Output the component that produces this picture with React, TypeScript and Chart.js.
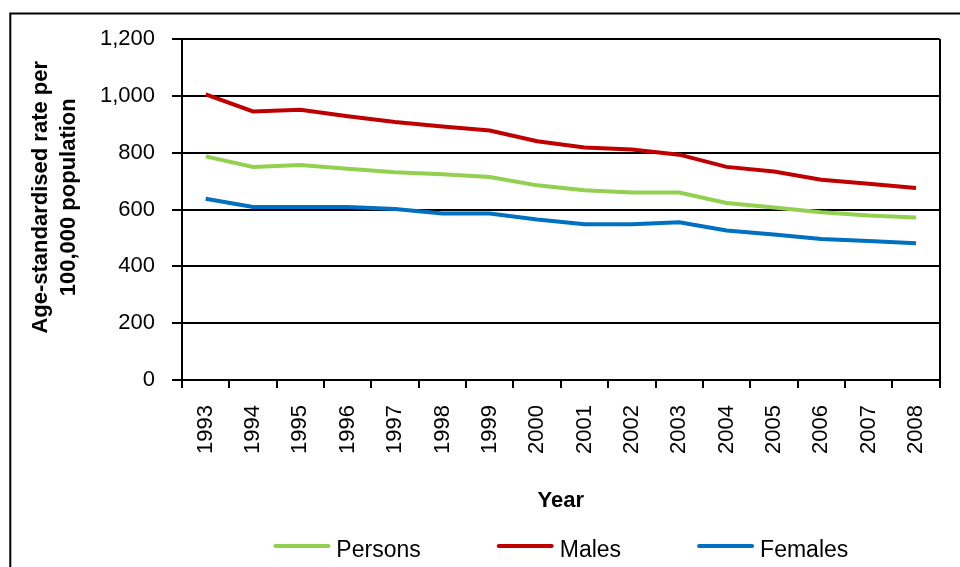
import React, { useEffect, useRef } from 'react';
import { Chart, registerables } from 'chart.js';

Chart.register(...registerables);

const years = ['1993', '1994', '1995', '1996', '1997', '1998', '1999', '2000', '2001', '2002', '2003', '2004', '2005', '2006', '2007', '2008'];
const persons = [787, 750, 757, 743, 731, 724, 714, 685, 668, 660, 660, 623, 607, 590, 579, 572];
const males = [1005, 945, 951, 928, 908, 892, 878, 840, 818, 811, 793, 750, 734, 705, 691, 676];
const females = [638, 609, 609, 609, 602, 586, 586, 565, 548, 548, 555, 526, 512, 496, 489, 481];
const seriesNames = ['Persons', 'Males', 'Females'];
const seriesColors = ['#92D050', '#C00000', '#0070C0'];
const yTitle = ['    Age-standardised rate per', '    100,000 population'];
const xTitle = 'Year';

const FONT = '"Liberation Sans", Arial, Helvetica, sans-serif';

const framePlugin = {
  id: 'frame',
  beforeDraw(chart: any) {
    const ctx = chart.ctx;
    ctx.save();
    ctx.fillStyle = '#ffffff';
    ctx.fillRect(0, 0, chart.width, chart.height);
    ctx.strokeStyle = '#000000';
    ctx.lineWidth = 2;
    ctx.strokeRect(10.3, 13.5, 3000, 3000);
    ctx.restore();
  },
};

const lineLegendPlugin = {
  id: 'lineLegend',
  afterDraw(chart: any) {
    const ctx = chart.ctx;
    ctx.save();
    ctx.font = `23px ${FONT}`;
    const items = chart.data.datasets.map((ds: any) => ({
      label: ds.label as string,
      color: ds.borderColor as string,
      w: ctx.measureText(ds.label).width,
    }));
    const boxW = 57;
    const gap = 6;
    const spacing = 76;
    const total = items.reduce((s: number, it: any) => s + boxW + gap + it.w, 0) + spacing * (items.length - 1);
    let x = (chart.chartArea.left + chart.chartArea.right) / 2 - total / 2;
    const lineY = 546;
    const baseY = 556.5;
    items.forEach((it: any) => {
      ctx.strokeStyle = it.color;
      ctx.lineWidth = 4;
      ctx.lineCap = 'round';
      ctx.beginPath();
      ctx.moveTo(x + 2, lineY);
      ctx.lineTo(x + boxW - 2, lineY);
      ctx.stroke();
      ctx.fillStyle = '#000000';
      ctx.textAlign = 'left';
      ctx.textBaseline = 'alphabetic';
      ctx.fillText(it.label, x + boxW + gap, baseY);
      x += boxW + gap + it.w + spacing;
    });
    ctx.restore();
  },
};

export default function App() {
  const canvasRef = useRef<HTMLCanvasElement | null>(null);

  useEffect(() => {
    if (!canvasRef.current) return;
    const values = [persons, males, females];
    const chart = new Chart(canvasRef.current, {
      type: 'line',
      data: {
        labels: years,
        datasets: values.map((v, i) => ({
          label: seriesNames[i],
          data: v,
          borderColor: seriesColors[i],
          backgroundColor: seriesColors[i],
          borderWidth: 4,
          pointRadius: 0,
          pointHoverRadius: 0,
          tension: 0,
          fill: false,
        })),
      },
      options: {
        animation: false,
        responsive: true,
        maintainAspectRatio: false,
        layout: { padding: { top: 39, right: 20, left: 0, bottom: 42 } },
        plugins: {
          legend: { display: false },
          tooltip: { enabled: false },
        },
        scales: {
          x: {
            type: 'category',
            offset: true,
            afterFit: (scale: any) => {
              scale.height = 145;
            },
            grid: {
              offset: true,
              drawOnChartArea: true,
              drawTicks: true,
              tickLength: 8,
              lineWidth: 2,
              color: (c: any) => (c.type === 'tick' ? 'rgba(0,0,0,0)' : '#000000'),
              tickColor: '#000000',
            },
            border: { display: true, color: '#000000', width: 2 },
            ticks: {
              color: '#000000',
              font: { family: FONT, size: 22 },
              minRotation: 90,
              maxRotation: 90,
              padding: 17,
              autoSkip: false,
            },
            title: {
              display: true,
              text: xTitle,
              color: '#000000',
              font: { family: FONT, size: 22, weight: 'bold' },
              padding: { top: 0, bottom: 10.8 },
            },
          },
          y: {
            min: 0,
            max: 1200,
            afterFit: (scale: any) => {
              scale.width = 182;
            },
            grid: {
              color: '#000000',
              lineWidth: 2,
              tickLength: 10,
              tickColor: '#000000',
            },
            border: { display: true, color: '#000000', width: 2 },
            ticks: {
              stepSize: 200,
              color: '#000000',
              padding: 17,
              font: { family: FONT, size: 22 },
              callback: (v: any) => Number(v).toLocaleString('en-US'),
            },
            title: {
              display: true,
              text: yTitle,
              color: '#000000',
              font: { family: FONT, size: 22, weight: 'bold', lineHeight: 1.26 },
              padding: { top: 27, bottom: 0 },
            },
          },
        },
      },
      plugins: [framePlugin, lineLegendPlugin],
    } as any);
    return () => chart.destroy();
  }, []);

  return (
    <div style={{ position: 'fixed', left: 0, top: 0, width: 960, height: 567, background: '#fff' }}>
      <canvas ref={canvasRef} />
    </div>
  );
}
